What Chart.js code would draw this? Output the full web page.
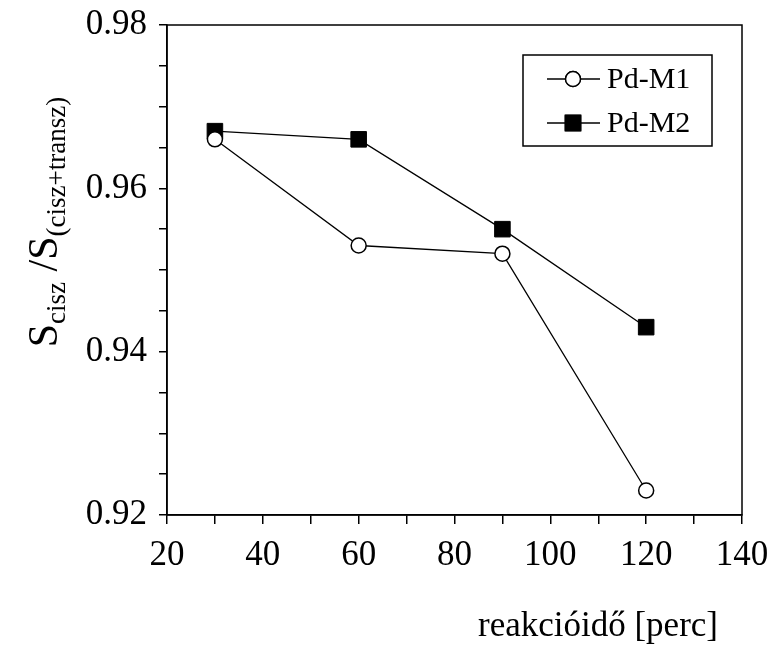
<!DOCTYPE html>
<html>
<head>
<meta charset="utf-8">
<script src="https://cdn.jsdelivr.net/npm/chart.js@4"></script>
<style>
  html, body { margin: 0; padding: 0; background: #fff; }
  #wrap { width: 774px; height: 656px; position: relative; }
</style>
</head>
<body>
<div id="wrap"><canvas id="chart"></canvas></div>
<script>
// reakcióidő [perc]
const times = [30, 60, 90, 120];
// S_cisz / S_(cisz+transz)
const pdM1 = [0.966, 0.953, 0.952, 0.923];
const pdM2 = [0.967, 0.966, 0.955, 0.943];
const seriesNames = ['Pd-M1', 'Pd-M2'];
const xTicksMajor = [20, 40, 60, 80, 100, 120, 140];
const yTicksMajor = [0.92, 0.94, 0.96, 0.98];

const SERIF = '"Liberation Serif", "DejaVu Serif", serif';

function pts(ys) {
    return times.map((t, i) => ({ x: t, y: ys[i] }));
}

// box around the plot area plus the axis titles
const framePlugin = {
    id: 'frame',
    afterDraw(chart) {
        const { ctx, chartArea: a } = chart;
        ctx.save();
        ctx.strokeStyle = '#000';
        ctx.lineWidth = 1.5;
        ctx.strokeRect(a.left, a.top, a.right - a.left, a.bottom - a.top);

        // x title
        ctx.fillStyle = '#000';
        ctx.font = '35px ' + SERIF;
        ctx.textAlign = 'right';
        ctx.textBaseline = 'alphabetic';
        ctx.fillText('reakcióidő [perc]', 718, 636);

        // y title with subscripts, rotated
        const parts = [
            { t: 'S', size: 42, dy: 0 },
            { t: 'cisz', size: 27, dy: 8 },
            { t: ' /S', size: 42, dy: 0 },
            { t: '(cisz+transz)', size: 27, dy: 8 }
        ];
        let total = 0;
        parts.forEach(p => {
            ctx.font = p.size + 'px ' + SERIF;
            p.w = ctx.measureText(p.t).width;
            total += p.w;
        });
        ctx.translate(57, 222);
        ctx.rotate(-Math.PI / 2);
        ctx.textAlign = 'left';
        let x = -total / 2;
        parts.forEach(p => {
            ctx.font = p.size + 'px ' + SERIF;
            ctx.fillText(p.t, x, p.dy);
            x += p.w;
        });
        ctx.restore();
    }
};

// legend: line - marker - line, then the name
const boxLegend = {
    id: 'boxLegend',
    afterDraw(chart) {
        const { ctx } = chart;
        const bx = 523, by = 55, bw = 189, bh = 91;
        ctx.save();
        ctx.fillStyle = '#fff';
        ctx.fillRect(bx, by, bw, bh);
        ctx.strokeStyle = '#000';
        ctx.lineWidth = 1.5;
        ctx.strokeRect(bx, by, bw, bh);
        chart.data.datasets.forEach((ds, i) => {
            const cy = by + 24 + i * 44;
            ctx.strokeStyle = '#000';
            ctx.lineWidth = 1.3;
            ctx.beginPath();
            ctx.moveTo(bx + 24, cy);
            ctx.lineTo(bx + 77, cy);
            ctx.stroke();
            Chart.helpers.drawPoint(ctx, {
                pointStyle: ds.pointStyle,
                radius: ds.pointRadius,
                borderWidth: ds.pointBorderWidth
            }, bx + 50, cy);
            ctx.fillStyle = ds.pointBackgroundColor;
            ctx.strokeStyle = '#000';
            ctx.lineWidth = ds.pointBorderWidth;
            ctx.fill();
            ctx.stroke();
            ctx.fillStyle = '#000';
            ctx.font = '30px ' + SERIF;
            ctx.textAlign = 'left';
            ctx.textBaseline = 'middle';
            ctx.fillText(ds.label, bx + 84, cy + 1);
        });
        ctx.restore();
    }
};

new Chart(document.getElementById('chart'), {
    type: 'line',
    data: {
        datasets: [
            {
                label: seriesNames[0],
                data: pts(pdM1),
                borderColor: '#000',
                borderWidth: 1.3,
                pointStyle: 'circle',
                pointRadius: 7.5,
                pointBorderWidth: 1.5,
                pointBackgroundColor: '#fff',
                pointBorderColor: '#000',
                tension: 0
            },
            {
                label: seriesNames[1],
                data: pts(pdM2),
                borderColor: '#000',
                borderWidth: 1.3,
                pointStyle: 'rect',
                pointRadius: 11,
                pointBorderWidth: 1,
                pointBackgroundColor: '#000',
                pointBorderColor: '#000',
                tension: 0
            }
        ]
    },
    options: {
        responsive: true,
        maintainAspectRatio: false,
        animation: false,
        layout: { padding: { top: 25, right: 32, left: 0, bottom: 0 } },
        plugins: {
            legend: { display: false },
            tooltip: { enabled: false }
        },
        scales: {
            x: {
                type: 'linear',
                min: 20,
                max: 140,
                afterFit(s) {
                    s.height = 141;
                    s.paddingLeft = 0;
                    s.paddingRight = 0;
                },
                border: { display: true, color: '#000', width: 1.5 },
                grid: {
                    drawOnChartArea: false,
                    drawTicks: true,
                    tickLength: 9,
                    color: '#000',
                    lineWidth: 1.5
                },
                ticks: {
                    stepSize: 10,
                    autoSkip: false,
                    maxRotation: 0,
                    padding: 11,
                    color: '#000',
                    font: { family: SERIF, size: 35 },
                    callback: v => xTicksMajor.includes(v) ? String(v) : ''
                }
            },
            y: {
                type: 'linear',
                min: 0.92,
                max: 0.98,
                afterFit(s) {
                    s.width = 167;
                    s.paddingTop = 0;
                    s.paddingBottom = 0;
                },
                border: { display: true, color: '#000', width: 1.5 },
                grid: {
                    drawOnChartArea: false,
                    drawTicks: true,
                    tickLength: 8,
                    color: '#000',
                    lineWidth: 1.5
                },
                ticks: {
                    stepSize: 0.005,
                    autoSkip: false,
                    padding: 12,
                    color: '#000',
                    font: { family: SERIF, size: 35 },
                    callback: v => {
                        const r = Math.round(v * 1000) / 1000;
                        return yTicksMajor.some(m => Math.abs(m - r) < 1e-9) ? r.toFixed(2) : '';
                    }
                }
            }
        }
    },
    plugins: [framePlugin, boxLegend]
});
</script>
</body>
</html>
